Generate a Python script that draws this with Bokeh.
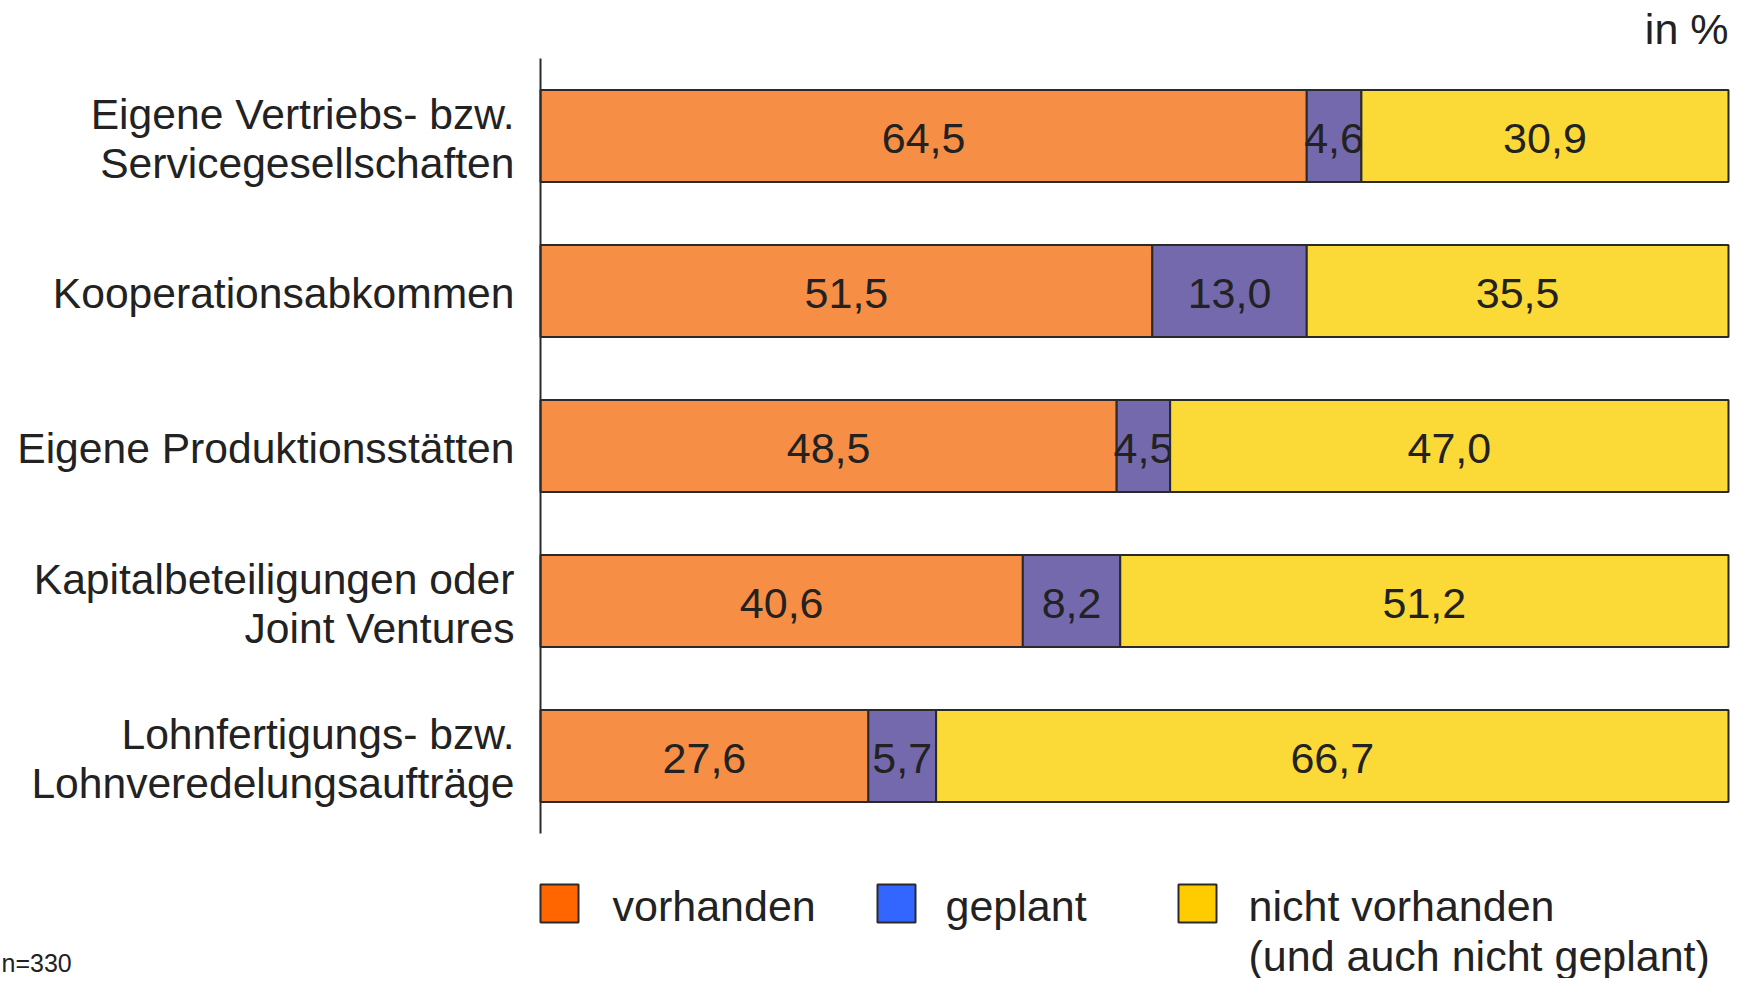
from bokeh.plotting import figure
from bokeh.models import Range1d, LinearAxis, FixedTicker
from bokeh.embed import file_html
from bokeh.resources import INLINE
from bokeh.core.properties import value

# ---------------- data ----------------
categories = [
    "Eigene Vertriebs- bzw.\nServicegesellschaften",
    "Kooperationsabkommen",
    "Eigene Produktionsstätten",
    "Kapitalbeteiligungen oder\nJoint Ventures",
    "Lohnfertigungs- bzw.\nLohnveredelungsaufträge",
]
vorhanden = [64.5, 51.5, 48.5, 40.6, 27.6]
geplant = [4.6, 13.0, 4.5, 8.2, 5.7]
nicht_vorhanden = [30.9, 35.5, 47.0, 51.2, 66.7]
series_names = ["vorhanden", "geplant", "nicht vorhanden\n(und auch nicht geplant)"]
unit_label = "in %"
sample_note = "n=330"

# ---------------- style ----------------
bar_colors = ["#F68E45", "#7469AC", "#FBDA38"]
legend_colors = ["#FF6600", "#3366FF", "#FFCC00"]
edge = "#2a2a2a"
txt = "#222222"
FONT = "Liberation Sans"
FS = "43px"
FS_CAT = "42.6px"

W, H = 1730, 978
FRAME_L = 540          # canvas px where 0 % lies
PX_PER_UNIT = 11.88    # px per percent (100 % ends at 1728)
ROW = 155.0            # px per category row
TOP = 58.0             # canvas px of first row top


def cx(px):
    return (px - FRAME_L) / PX_PER_UNIT


def cy(px):
    return (px - TOP) / ROW


p = figure(
    width=W, height=H,
    x_range=Range1d(cx(0), cx(W)),
    y_range=Range1d(cy(H), cy(0)),
    x_axis_type=None, y_axis_type=None,
    toolbar_location=None, output_backend="svg",
    min_border=0, outline_line_color=None,
    background_fill_color="white", border_fill_color="white",
)
p.xgrid.visible = False
p.ygrid.visible = False

n = len(categories)
ys = [i + 0.5 for i in range(n)]
series = [vorhanden, geplant, nicht_vorhanden]

left = [0.0] * n
for vals, col in zip(series, bar_colors):
    right = [l + v for l, v in zip(left, vals)]
    p.hbar(y=ys, left=left, right=right, height=0.595,
           fill_color=col, line_color=edge, line_width=2)
    mids = [(l + r) / 2 for l, r in zip(left, right)]
    labels = [f"{v:.1f}".replace(".", ",") for v in vals]
    p.text(x=mids, y=[y + 0.015 for y in ys], text=labels, text_align="center",
           text_baseline="middle", text_font=value(FONT), text_font_size=FS,
           text_color=txt)
    left = right

# category axis
ax = LinearAxis(
    fixed_location=0, bounds=(0, n),
    ticker=FixedTicker(ticks=[y + 0.015 for y in ys]),
    major_label_overrides={y + 0.015: c for y, c in zip(ys, categories)},
    major_tick_line_color=None, minor_tick_line_color=None,
    axis_line_color=edge, axis_line_width=2,
    major_label_standoff=20,
    major_label_text_font=FONT, major_label_text_font_size=FS_CAT,
    major_label_text_color=txt, major_label_text_line_height=1.03,
)
p.add_layout(ax, "left")

# unit label
p.text(x=[cx(1728)], y=[cy(28)], text=[unit_label], text_align="right",
       text_baseline="middle", text_font=value(FONT), text_font_size=FS,
       text_color=txt)

# legend
sq_x = [cx(559), cx(896), cx(1197)]
tx_x = [cx(612), cx(945), cx(1248)]
leg_y = 903
p.rect(x=sq_x, y=[cy(leg_y)] * 3, width=38, height=38,
       width_units="screen", height_units="screen",
       fill_color=legend_colors, line_color=edge, line_width=2)
for x0, name in zip(tx_x, series_names):
    for k, line in enumerate(name.split("\n")):
        p.text(x=[x0], y=[cy(leg_y + 2 + 50 * k)], text=[line], text_align="left",
               text_baseline="middle", text_font=value(FONT), text_font_size=FS,
               text_color=txt)

# sample note
p.text(x=[cx(1)], y=[cy(976)], text=[sample_note], text_align="left",
       text_baseline="bottom", text_font=value(FONT), text_font_size="25px",
       text_color=txt)

open("out.html", "w").write(file_html(p, INLINE))
